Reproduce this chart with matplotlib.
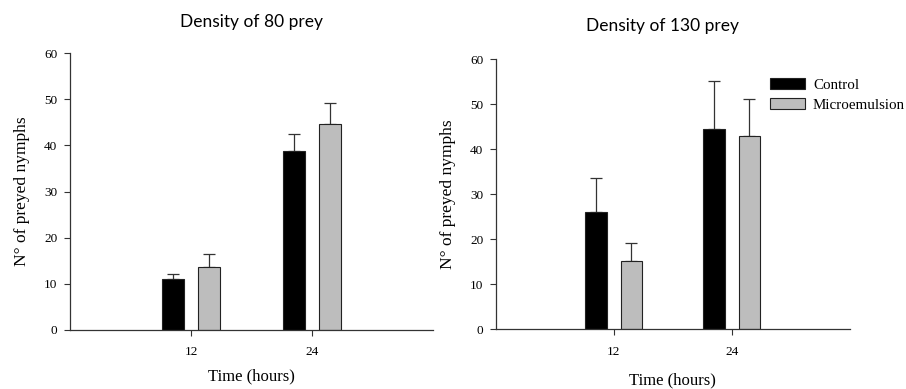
import matplotlib
matplotlib.use("Agg")
import matplotlib.pyplot as plt
import numpy as np

# ============================================================================#
# data (mean + upper error)
times = ["12", "24"]
groups = ["Control", "Microemulsion"]

control_80 = [11.0, 38.7]
control_80_err = [1.1, 3.7]
micro_80 = [13.7, 44.6]
micro_80_err = [2.7, 4.6]

control_130 = [26.0, 44.6]
control_130_err = [7.7, 10.6]
micro_130 = [15.2, 42.9]
micro_130_err = [4.0, 8.2]

titles = ["Density of 80 prey", "Density of 130 prey"]
yticks = [0, 10, 20, 30, 40, 50, 60]

W, H = 906, 389
serif = ["Liberation Serif", "DejaVu Serif"]
bar_colors = ["#000000", "#bdbdbd"]


def px(x0, y0, x1, y1):
    """axes rect from pixel corners"""
    return [x0 / W, 1 - y1 / H, (x1 - x0) / W, (y1 - y0) / H]


def draw_panel(ax, ctrl, ctrl_err, micro, micro_err, ylab_x, xlab_y):
    x = np.arange(1, len(times) + 1)
    offset = 0.15
    width = 0.18
    series = [(ctrl, ctrl_err), (micro, micro_err)]
    for i, (vals, err) in enumerate(series):
        pos = x + (i * 2 - 1) * offset
        ax.bar(pos, vals, width=width, color=bar_colors[i],
               edgecolor="#222222", linewidth=0.8, label=groups[i], zorder=2)
        ax.errorbar(pos, vals, yerr=[np.zeros(len(vals)), err], fmt="none",
                    ecolor="#333333", elinewidth=0.9, capsize=4, capthick=0.9,
                    zorder=1)

    ax.set_xlim(0, 3)
    ax.set_ylim(0, 60)
    ax.set_xticks(x)
    ax.set_xticklabels(times, family=serif, fontsize=9.5)
    ax.set_yticks(yticks)
    ax.set_yticklabels([str(t) for t in yticks], family=serif, fontsize=9.5)
    ax.spines.top.set_visible(False)
    ax.spines.right.set_visible(False)
    for s in ["left", "bottom"]:
        ax.spines[s].set_linewidth(0.9)
        ax.spines[s].set_color("#333333")
    ax.tick_params(axis="y", direction="out", length=4, width=0.8, pad=5,
                   color="#333333")
    ax.tick_params(axis="x", direction="out", length=4, width=0.8, pad=8,
                   color="#333333")

    ax.set_ylabel("N° of preyed nymphs", family=serif, fontsize=12.5)
    ax.yaxis.set_label_coords(ylab_x, 0.5)
    ax.set_xlabel("Time (hours)", family=serif, fontsize=12)
    ax.xaxis.set_label_coords(0.5, xlab_y)


fig = plt.figure(figsize=(W / 100, H / 100), dpi=100)
ax1 = fig.add_axes(px(70, 53.3, 433, 329.7))
ax2 = fig.add_axes(px(495.7, 59.3, 849.7, 329))

draw_panel(ax1, control_80, control_80_err, micro_80, micro_80_err, -0.11, -0.14)
draw_panel(ax2, control_130, control_130_err, micro_130, micro_130_err, -0.112, -0.16)

fig.text(252 / W, 1 - 22 / H, titles[0], ha="center", va="center",
         family="Lato", fontsize=12.5)
fig.text(662 / W, 1 - 26 / H, titles[1], ha="center", va="center",
         family="Lato", fontsize=12.5)

ax2.legend(loc="upper left", bbox_to_anchor=(769.7 / W, 1 - 78 / H),
           bbox_transform=fig.transFigure, frameon=False, borderpad=0,
           borderaxespad=0, handlelength=2.37, handleheight=0.71,
           handletextpad=0.51, labelspacing=0.45,
           prop={"family": serif, "size": 10.8})

fig.savefig("out.png", dpi=100)
